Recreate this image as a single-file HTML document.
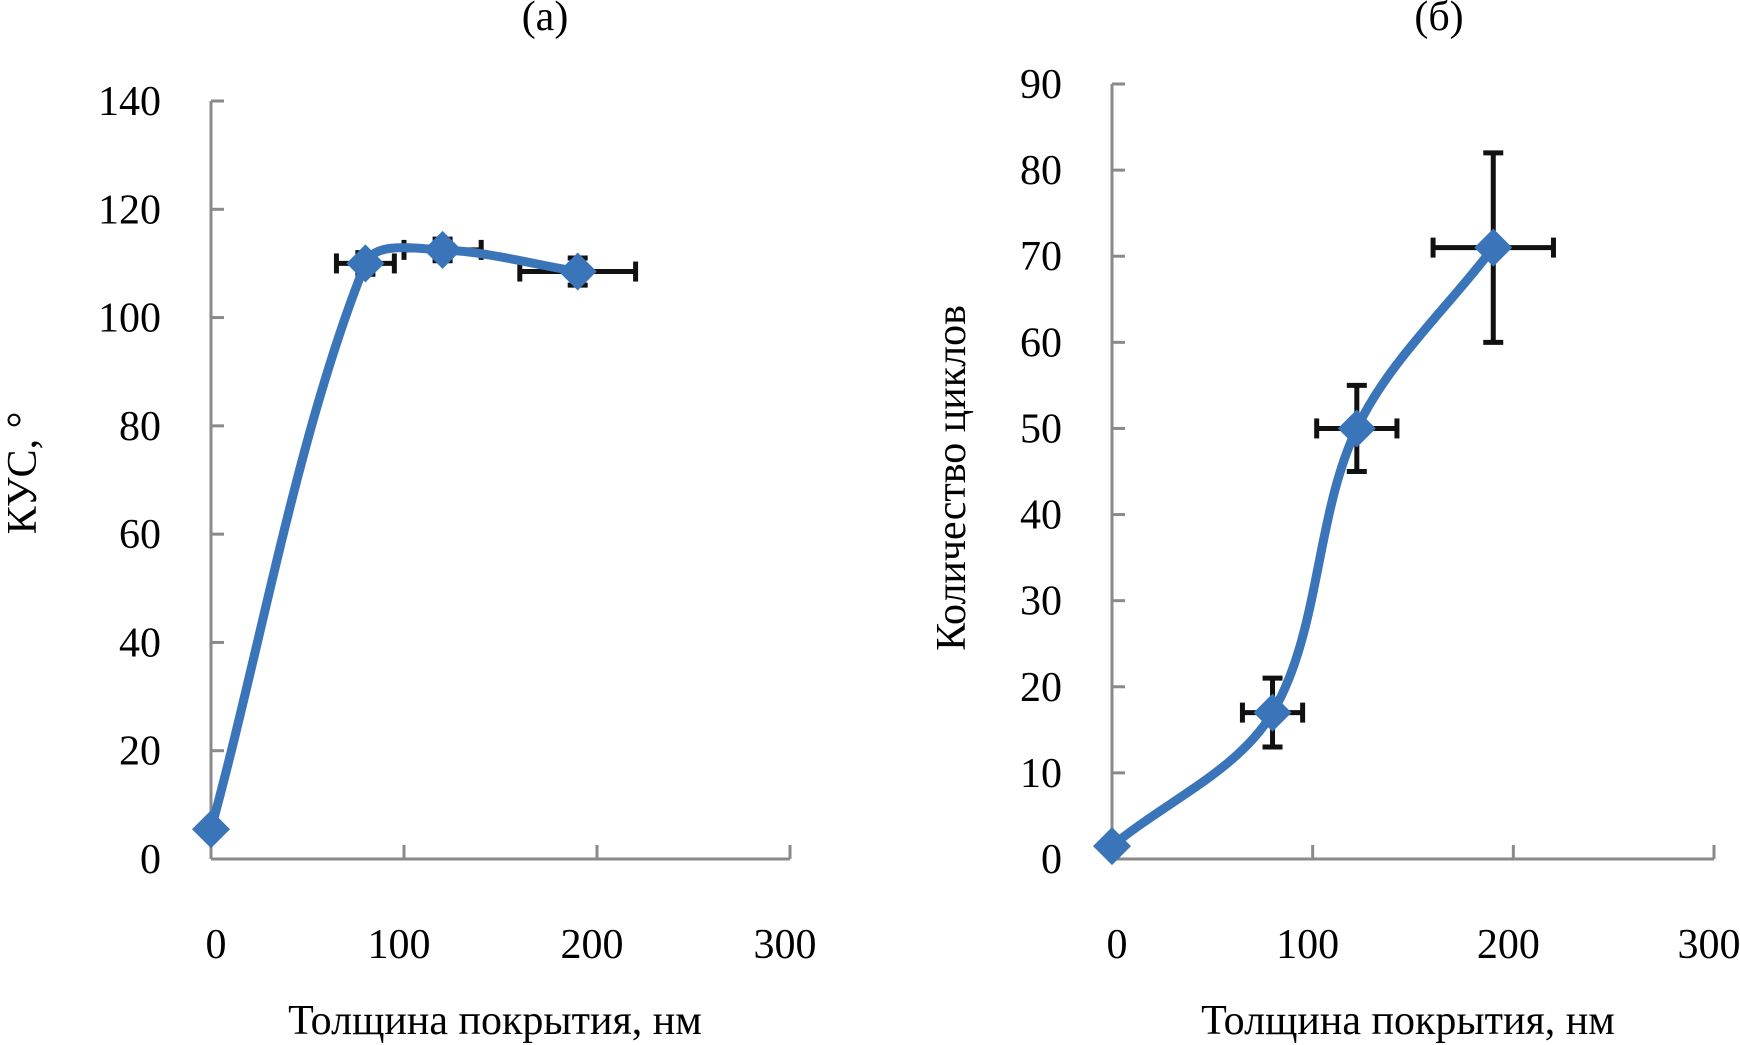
<!DOCTYPE html>
<html><head><meta charset="utf-8"><style>
html,body{margin:0;padding:0;background:#fff;}
svg{display:block;font-family:"Liberation Serif",serif;}
</style></head><body>
<svg id="chart" width="1740" height="1045" viewBox="0 0 1740 1045"></svg>
<script>
const xTicks=[0,100,200,300];
const yTicksA=[0,20,40,60,80,100,120,140];
const yTicksB=[0,10,20,30,40,50,60,70,80,90];
const xA=[0,80,120,190];
const yA=[5.5,110,112.5,108.5];
const xErrA=[0,15,20,30];
const yErrA=[0,2,2,2.5];
const xB=[0,80,122,190];
const yB=[1.5,17,50,71];
const xErrB=[0,15,20,30];
const yErrB=[0,4,5,11];

const svg=document.getElementById('chart');
const NS='http://www.w3.org/2000/svg';
function mk(tag,attrs,parent){const e=document.createElementNS(NS,tag);for(const k in attrs)e.setAttribute(k,attrs[k]);(parent||svg).appendChild(e);return e;}

function drawPanel(cfg){
  const g=mk('g',{});
  
  
  const sx=v=>cfg.x0+(v-0)/300*(cfg.x1-cfg.x0);
  const sy=v=>cfg.y0-(v/cfg.ymax)*(cfg.y0-cfg.yTop);
  const ya=mk('line',{x1:cfg.x0,y1:cfg.yTop,x2:cfg.x0,y2:cfg.y0,stroke:'#8a8a8a','stroke-width':3},g);
  
  const xa=mk('line',{x1:cfg.x0,y1:cfg.y0,x2:cfg.x1,y2:cfg.y0,stroke:'#8a8a8a','stroke-width':3},g);
  
  cfg.yTicks.forEach(t=>{
    mk('line',{x1:cfg.x0,y1:sy(t),x2:cfg.x0+13,y2:sy(t),stroke:'#8a8a8a','stroke-width':3},g);
    const tx=mk('text',{x:cfg.x0-50,y:sy(t)+14,'text-anchor':'end','font-size':42},g);
    tx.textContent=t;
    
  });
  xTicks.forEach(t=>{
    mk('line',{x1:sx(t),y1:cfg.y0,x2:sx(t),y2:cfg.y0-14,stroke:'#8a8a8a','stroke-width':3},g);
    const tx=mk('text',{x:sx(t)+(t===0?5:-5),y:cfg.y0+99,'text-anchor':'middle','font-size':42},g);
    tx.textContent=t;
    
  });
  const P=cfg.xs.map((x,i)=>[sx(x),sy(cfg.ys[i])]);
  const tan=i=>{
    if(i===0||i===P.length-1) return [0,0];
    const a=P[i-1],b=P[i],c=P[i+1];
    const l1=Math.hypot(b[0]-a[0],b[1]-a[1]),l2=Math.hypot(c[0]-b[0],c[1]-b[1]);
    return [(c[0]-a[0])/(l1+l2),(c[1]-a[1])/(l1+l2)];
  };
  let d='M'+P[0][0]+','+P[0][1];
  for(let i=0;i<P.length-1;i++){
    const p1=P[i],p2=P[i+1];
    const L=Math.hypot(p2[0]-p1[0],p2[1]-p1[1])/3;
    const t1=tan(i),t2=tan(i+1);
    const c1=i===0?[p1[0]+(p2[0]-p1[0])/3,p1[1]+(p2[1]-p1[1])/3]:[p1[0]+t1[0]*L,p1[1]+t1[1]*L];
    const c2=i+1===P.length-1?[p2[0]-(p2[0]-p1[0])/3,p2[1]-(p2[1]-p1[1])/3]:[p2[0]-t2[0]*L,p2[1]-t2[1]*L];
    d+=' C'+c1+' '+c2+' '+p2;
  }
  cfg.xs.forEach((x,i)=>{
    const cx=sx(x),cy=sy(cfg.ys[i]);
    const eg=mk('g',{stroke:'#111','stroke-width':5},g);
    
    if(cfg.xe[i]>0){
      const a=sx(x-cfg.xe[i]),b=sx(x+cfg.xe[i]);
      mk('line',{x1:a,y1:cy,x2:b,y2:cy},eg);
      mk('line',{x1:a,y1:cy-10,x2:a,y2:cy+10},eg);
      mk('line',{x1:b,y1:cy-10,x2:b,y2:cy+10},eg);
    }
    if(cfg.ye[i]>0){
      const a=sy(cfg.ys[i]-cfg.ye[i]),b=sy(cfg.ys[i]+cfg.ye[i]);
      mk('line',{x1:cx,y1:a,x2:cx,y2:b},eg);
      mk('line',{x1:cx-10,y1:a,x2:cx+10,y2:a},eg);
      mk('line',{x1:cx-10,y1:b,x2:cx+10,y2:b},eg);
    }
  });
  const line=mk('path',{d:d,fill:'none',stroke:'#3a74b9','stroke-width':9,'stroke-linecap':'round'},g);
  
  P.forEach(p=>{
    const s=19;
    const m=mk('polygon',{points:`${p[0]},${p[1]-s} ${p[0]+s},${p[1]} ${p[0]},${p[1]+s} ${p[0]-s},${p[1]}`,fill:'#3a74b9'},g);
    
  });
  const t=mk('text',{x:cfg.titleX,y:30,'text-anchor':'middle','font-size':42},g);
  t.textContent=cfg.title;
  const xt=mk('text',{x:cfg.xTitleX,y:1034,'text-anchor':'middle','font-size':42},g);
  xt.textContent='Толщина покрытия, нм';
  
  const yt=mk('text',{x:0,y:0,'text-anchor':'middle','font-size':42,transform:`translate(${cfg.yTitleX},${cfg.yTitleY}) rotate(-90)`},g);
  yt.textContent=cfg.yTitle;
  
}
drawPanel({name:'panel-a',x0:211,x1:790,y0:859,yTop:101,ymax:140,yTicks:yTicksA,xs:xA,ys:yA,xe:xErrA,ye:yErrA,title:'(a)',titleX:545,xTitleX:495,yTitle:'КУС, °',yTitleX:36,yTitleY:473});
drawPanel({name:'panel-b',x0:1112,x1:1714,y0:859,yTop:84,ymax:90,yTicks:yTicksB,xs:xB,ys:yB,xe:xErrB,ye:yErrB,title:'(б)',titleX:1439,xTitleX:1408,yTitle:'Количество циклов',yTitleX:965,yTitleY:478});
</script>
</body></html>
